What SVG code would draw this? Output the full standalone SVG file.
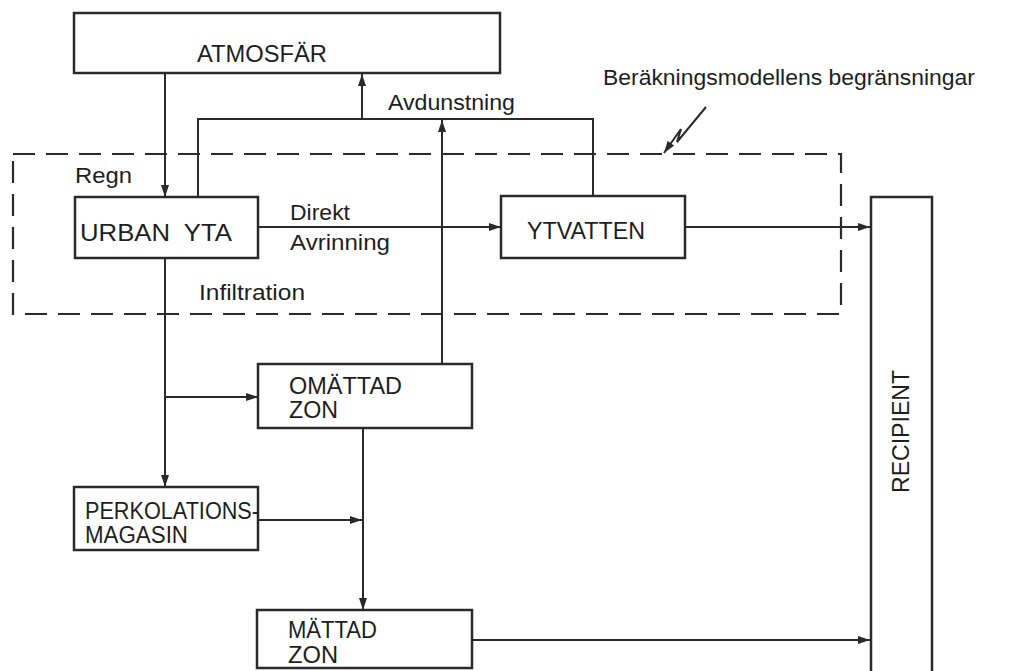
<svg xmlns="http://www.w3.org/2000/svg" width="1030" height="671" viewBox="0 0 1030 671">
<defs>
<style>
.box{fill:#fff;stroke:#2a2a2a;stroke-width:2.5}
.ln{fill:none;stroke:#2a2a2a;stroke-width:2}
.dash{fill:none;stroke:#2a2a2a;stroke-width:2.2;stroke-dasharray:22 11}
.t{font-family:"Liberation Sans","DejaVu Sans",sans-serif;font-size:23px;fill:#1e1e1e}
.s{font-size:22px}
</style>
<marker id="ah" viewBox="0 0 12 8" refX="12" refY="4" markerWidth="12" markerHeight="8" markerUnits="userSpaceOnUse" orient="auto">
<path d="M0,0 L12,4 L0,8 Z" fill="#2a2a2a"/>
</marker>
</defs>
<rect width="1030" height="671" fill="#fff"/>
<g id="boundary">
<rect class="dash" x="13" y="154" width="828" height="160"/>
<text class="t s" x="603" y="85" textLength="372" lengthAdjust="spacingAndGlyphs">Beräkningsmodellens begränsningar</text>
</g>
<g id="connectors">
<path class="ln" d="M165,73 V197" marker-end="url(#ah)"/>
<path class="ln" d="M198,197 V119 H593 V196"/>
<path class="ln" d="M362,119 V74" marker-end="url(#ah)"/>
<path class="ln" d="M442,364 V120" marker-end="url(#ah)"/>
<path class="ln" d="M258,227 H501" marker-end="url(#ah)"/>
<path class="ln" d="M685,227 H870" marker-end="url(#ah)"/>
<path class="ln" d="M165,258 V487" marker-end="url(#ah)"/>
<path class="ln" d="M165,397 H258" marker-end="url(#ah)"/>
<path class="ln" d="M363,428 V610" marker-end="url(#ah)"/>
<path class="ln" d="M258,520 H362" marker-end="url(#ah)"/>
<path class="ln" d="M472,640 H870" marker-end="url(#ah)"/>
<path class="ln" d="M706,107 L677,142 L681,129 L664,153" marker-end="url(#ah)"/>
<text class="t s" x="388" y="110" textLength="127" lengthAdjust="spacingAndGlyphs">Avdunstning</text>
<text class="t s" x="75" y="183" textLength="57" lengthAdjust="spacingAndGlyphs">Regn</text>
<text class="t s" x="290" y="220" textLength="60" lengthAdjust="spacingAndGlyphs">Direkt</text>
<text class="t s" x="290" y="250" textLength="100" lengthAdjust="spacingAndGlyphs">Avrinning</text>
<text class="t s" x="199" y="300" textLength="106" lengthAdjust="spacingAndGlyphs">Infiltration</text>
</g>
<g id="atmosfar">
<rect class="box" x="74" y="13" width="426" height="60"/>
<text class="t" x="197" y="62" textLength="130" lengthAdjust="spacingAndGlyphs">ATMOSFÄR</text>
</g>
<g id="urban-yta">
<rect class="box" x="75" y="197" width="183" height="61"/>
<text class="t" x="80" y="241" textLength="152" lengthAdjust="spacingAndGlyphs" xml:space="preserve">URBAN  YTA</text>
</g>
<g id="ytvatten">
<rect class="box" x="501" y="196" width="184" height="62"/>
<text class="t" x="527" y="239" textLength="118" lengthAdjust="spacingAndGlyphs">YTVATTEN</text>
</g>
<g id="recipient">
<rect class="box" x="871" y="197" width="61" height="500"/>
<text class="t" transform="translate(909,493) rotate(-90)" textLength="123" lengthAdjust="spacingAndGlyphs">RECIPIENT</text>
</g>
<g id="omattad-zon">
<rect class="box" x="258" y="364" width="214" height="64"/>
<text class="t" x="289" y="394" textLength="113" lengthAdjust="spacingAndGlyphs">OMÄTTAD</text>
<text class="t" x="289" y="418" textLength="49" lengthAdjust="spacingAndGlyphs">ZON</text>
</g>
<g id="perkolationsmagasin">
<rect class="box" x="74" y="487" width="184" height="63"/>
<text class="t" x="85" y="519" textLength="174" lengthAdjust="spacingAndGlyphs">PERKOLATIONS-</text>
<text class="t" x="85" y="543" textLength="103" lengthAdjust="spacingAndGlyphs">MAGASIN</text>
</g>
<g id="mattad-zon">
<rect class="box" x="257" y="610" width="215" height="58"/>
<text class="t" x="288" y="638" textLength="89" lengthAdjust="spacingAndGlyphs">MÄTTAD</text>
<text class="t" x="288" y="663" textLength="50" lengthAdjust="spacingAndGlyphs">ZON</text>
</g>
</svg>
